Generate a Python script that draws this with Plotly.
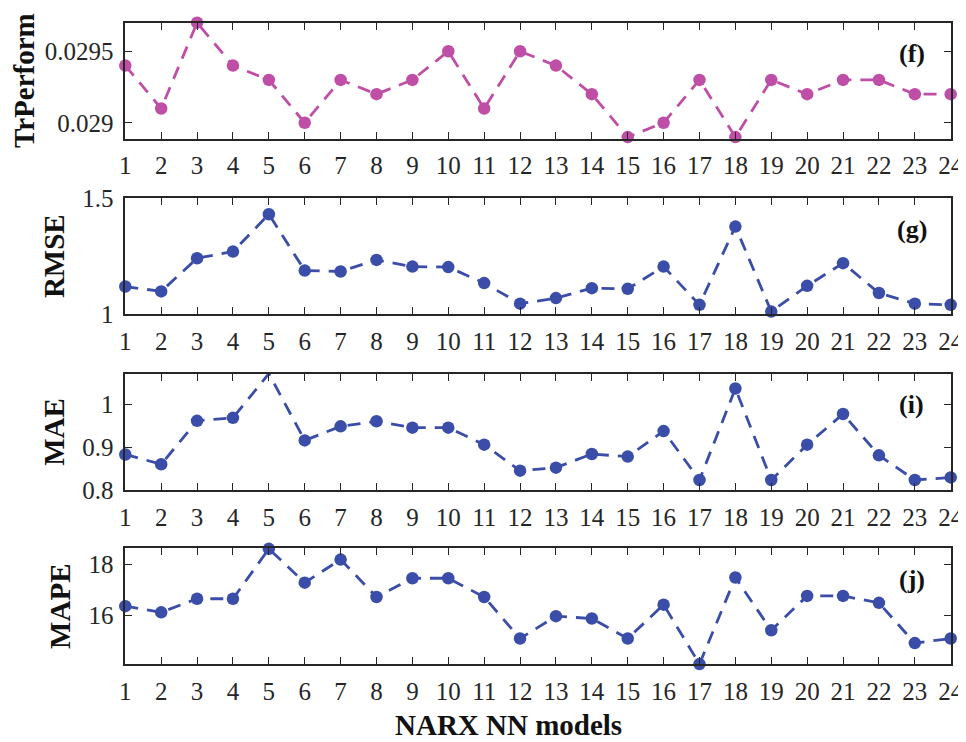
import plotly.graph_objects as go
from plotly.subplots import make_subplots

models = list(range(1, 25))
x_tick_labels = [str(m) for m in models]

tr_perform = [0.0294, 0.0291, 0.0297, 0.0294, 0.0293, 0.0290, 0.0293, 0.0292, 0.0293, 0.0295,
              0.0291, 0.0295, 0.0294, 0.0292, 0.0289, 0.0290, 0.0293, 0.0289, 0.0293, 0.0292,
              0.0293, 0.0293, 0.0292, 0.0292]
rmse = [1.119, 1.098, 1.241, 1.270, 1.431, 1.188, 1.184, 1.234, 1.205, 1.203,
        1.134, 1.045, 1.069, 1.112, 1.109, 1.205, 1.040, 1.378, 1.011, 1.122,
        1.220, 1.091, 1.045, 1.040]
mae = [0.883, 0.860, 0.962, 0.969, 1.073, 0.916, 0.949, 0.961, 0.946, 0.946,
       0.906, 0.845, 0.852, 0.884, 0.878, 0.938, 0.823, 1.038, 0.823, 0.906,
       0.978, 0.881, 0.823, 0.829]
mape = [16.36, 16.12, 16.65, 16.65, 18.60, 17.28, 18.18, 16.72, 17.45, 17.45,
        16.72, 15.10, 15.97, 15.88, 15.10, 16.42, 14.10, 17.48, 15.42, 16.76,
        16.76, 16.49, 14.92, 15.10]

series = [
    ("TrPerform", tr_perform, "#BF4FA6", [0.02889, 0.02970], [0.029, 0.0295], ["0.029", "0.0295"], "(f)"),
    ("RMSE", rmse, "#3A4DA8", [1.0, 1.5], [1.0, 1.5], ["1", "1.5"], "(g)"),
    ("MAE", mae, "#3A4DA8", [0.8, 1.072], [0.8, 0.9, 1.0], ["0.8", "0.9", "1"], "(i)"),
    ("MAPE", mape, "#3A4DA8", [14.1, 18.62], [16, 18], ["16", "18"], "(j)"),
]
x_title = "NARX NN models"

# The page body adds an 8px margin, so the figure is laid out 8px smaller
OFF = 8
W, H = 966 - OFF, 742 - OFF
tops = [22.7 - OFF, 198.3 - OFF, 374.0 - OFF, 548.3 - OFF]
box_h = 115.8
x_left, x_right = 125.3 - OFF, 950.7 - OFF

fig = make_subplots(rows=4, cols=1)
axis_color = "#262626"
font_family = "Liberation Serif, Times New Roman, serif"

for i, (name, vals, color, yr, ytv, ytt, tag) in enumerate(series):
    r = i + 1
    fig.add_trace(go.Scatter(
        x=models, y=vals, mode="lines+markers",
        line=dict(color=color, width=2.8, dash="13px,9px"),
        marker=dict(color=color, size=12.5),
        cliponaxis=False, showlegend=False,
    ), row=r, col=1)
    top = tops[i]
    bot = top + box_h
    fig.update_yaxes(
        domain=[1 - bot / H, 1 - top / H], range=yr, tickvals=ytv, ticktext=ytt,
        ticks="inside", ticklen=7, tickwidth=1.3, tickcolor=axis_color,
        showline=True, linecolor=axis_color, linewidth=1.6, mirror="ticks",
        showgrid=False, zeroline=False,
        tickfont=dict(family=font_family, size=25, color=axis_color),
        ticklabelstandoff=5,
        title=dict(text=f"<b>{name}</b>", font=dict(family=font_family, size=29, color="#111111"), standoff=9),
        row=r, col=1)
    fig.update_xaxes(
        domain=[x_left / W, x_right / W], range=[1, 24], tickvals=models, ticktext=x_tick_labels,
        ticks="inside", ticklen=7, tickwidth=1.3, tickcolor=axis_color,
        showline=True, linecolor=axis_color, linewidth=1.6, mirror="ticks",
        showgrid=False, zeroline=False,
        tickfont=dict(family=font_family, size=25, color=axis_color),
        ticklabelstandoff=4,
        row=r, col=1)
    xref = "x" if r == 1 else f"x{r}"
    yref = "y" if r == 1 else f"y{r}"
    fig.add_annotation(
        text=f"<b>{tag}</b>", xref=f"{xref} domain", yref=f"{yref} domain",
        x=0.953, y=1 - 31 / box_h, xanchor="center", yanchor="middle", showarrow=False,
        font=dict(family=font_family, size=26, color="#111111"))

fig.add_annotation(
    text=f"<b>{x_title}</b>", xref="paper", yref="paper",
    x=(508 - OFF) / W, y=1 - (725 - OFF) / H, xanchor="center", yanchor="middle",
    showarrow=False, font=dict(family=font_family, size=29, color="#111111"))

fig.update_layout(
    width=W, height=H, margin=dict(l=0, r=0, t=0, b=0, autoexpand=False),
    paper_bgcolor="white", plot_bgcolor="white",
)

fig.write_html("out.html")
